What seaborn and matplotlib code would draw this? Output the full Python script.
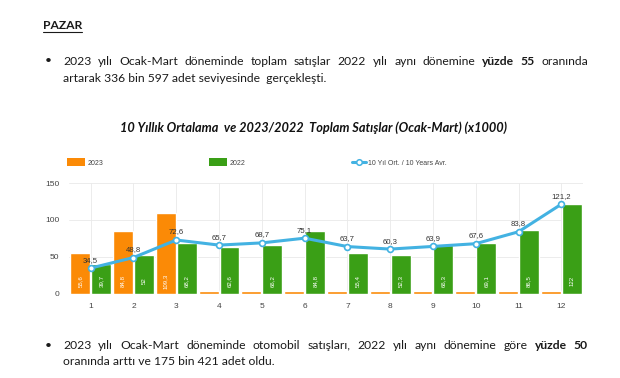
import numpy as np
import pandas as pd
import matplotlib
matplotlib.use("Agg")
import matplotlib.pyplot as plt
import seaborn as sns
from matplotlib.patches import Patch
from matplotlib.lines import Line2D

months = [str(m) for m in range(1, 13)]
sales_2023 = [55.6, 84.8, 109.3, 3, 3, 3, 3, 3, 3, 3, 3, 3]
sales_2022 = [39.7, 52, 68.2, 62.6, 66.2, 84.8, 55.4, 52.3, 66.3, 69.1, 86.5, 122]
avg_10y = [34.5, 48.8, 72.6, 65.7, 68.7, 75.1, 63.7, 60.3, 63.9, 67.6, 83.8, 121.2]

title = "10 Yıllık Ortalama  ve 2023/2022  Toplam Satışlar (Ocak-Mart) (x1000)"
heading = "PAZAR"
b1_line1 = "2023 yılı Ocak-Mart döneminde toplam satışlar 2022 yılı aynı dönemine **yüzde 55** oranında"
b1_line2 = "artarak 336 bin 597 adet seviyesinde  gerçekleşti."
b2_line1 = "2023 yılı Ocak-Mart döneminde otomobil satışları, 2022 yılı aynı dönemine göre **yüzde 50**"
b2_line2 = "oranında arttı ve 175 bin 421 adet oldu."

orange = "#fb8a06"
green = "#3a9f16"
blue = "#43b2e2"

sns.set_style("whitegrid", {"grid.color": "#e9e9e9"})
plt.rcParams["font.family"] = ["Liberation Sans", "DejaVu Sans"]

W, H = 620, 378
fig = plt.figure(figsize=(W / 100, H / 100), dpi=100)
renderer = fig.canvas.get_renderer()


def fx(x):
    return x / W


def fy(y):
    return 1 - y / H


def text_font():
    return dict(family=["Lato", "DejaVu Sans"], size=8.7, color="#1a1a1a", va="center")


def justified(line, x0, x1, y):
    # split into words, ** marks bold runs
    words = []
    for i, part in enumerate(line.split("**")):
        for w in part.split():
            words.append((w, "bold" if i % 2 else "normal"))
    items = []
    for w, wt in words:
        t = fig.text(0, 0, w, weight=wt, **text_font())
        items.append(t)
    widths = [t.get_window_extent(renderer=renderer).width for t in items]
    gap = (x1 - x0 - sum(widths)) / (len(items) - 1)
    x = x0
    for t, wd in zip(items, widths):
        t.set_position((fx(x), fy(y)))
        x += wd + gap


# heading + paragraphs
ht = fig.text(fx(43), fy(25.5), heading, weight="bold", **text_font())
hw = ht.get_window_extent(renderer=renderer).width
fig.add_artist(Line2D([fx(43), fx(43 + hw)], [fy(32.3), fy(32.3)], color="#1a1a1a", lw=0.8))

fig.text(fx(45), fy(60.5), "•", **text_font())
justified(b1_line1, 63, 588, 61.5)
fig.text(fx(63), fy(78.3), b1_line2, **text_font())

fig.text(fx(45), fy(345.5), "•", **text_font())
justified(b2_line1, 63, 588, 345.5)
fig.text(fx(63), fy(361.7), b2_line2, **text_font())

# chart title
fig.text(fx(314), fy(128), title, ha="center", va="center", weight="bold", style="italic",
         family=["Lato", "DejaVu Sans"], size=9.2, color="#111111")

# chart
ax = fig.add_axes([fx(69.3), fy(293.5), (582.7 - 69.3) / W, (293.5 - 183) / H])

bars = pd.DataFrame({
    "month": months * 2,
    "value": sales_2023 + sales_2022,
    "year": ["2023"] * 12 + ["2022"] * 12,
})
sns.barplot(data=bars, x="month", y="value", hue="year", hue_order=["2023", "2022"],
            palette=[orange, green], width=0.98, gap=0.05, legend=False, ax=ax,
            saturation=1, zorder=2)

for cont in ax.containers:
    for rect in cont:
        v = rect.get_height()
        if v < 10:
            continue
        lab = f"{v:g}".replace(".", ",")
        ax.text(rect.get_x() + rect.get_width() / 2, 17, lab, rotation=90, ha="center",
                va="center", color="white", fontsize=4.4, zorder=4)

line_df = pd.DataFrame({"month": months, "avg": avg_10y})
sns.pointplot(data=line_df, x="month", y="avg", color=blue, markers="o", errorbar=None,
              ax=ax, linewidth=2.2, markersize=4.2, markerfacecolor="white",
              markeredgewidth=1.2, markeredgecolor=blue, zorder=5)

for i, v in enumerate(avg_10y):
    ax.annotate(f"{v:g}".replace(".", ","), (i, v), xytext=(0, 8), textcoords="offset pixels",
                ha="center", va="center", fontsize=5.6, color="#333333", zorder=6)

ax.set_ylim(0, 150)
ax.set_xlim(-0.5, 11.5)
ax.set_yticks([0, 50, 100, 150])
ax.set_xlabel("")
ax.set_ylabel("")
ax.tick_params(axis="both", length=0, labelsize=6, labelcolor="#444444")
ax.tick_params(axis="x", pad=7)
ax.tick_params(axis="y", pad=7)
ax.grid(True, lw=0.6, zorder=0)
ax.set_axisbelow(True)
for s in ax.spines.values():
    s.set_visible(False)

# legend entries
leg_y = fy(162.5)
entries = [
    (Patch(facecolor=orange, edgecolor="none"), "2023", 67, 2.6),
    (Patch(facecolor=green, edgecolor="none"), "2022", 209, 2.6),
    (Line2D([0], [0], color=blue, lw=2.2, marker="o", markersize=4, markerfacecolor="white",
            markeredgecolor=blue, markeredgewidth=1.1), "10 Yıl Ort. / 10 Years Avr.", 352, 2.0),
]
for handle, label, x, hl in entries:
    lg = fig.legend(handles=[handle], labels=[label], loc="center left",
                    bbox_to_anchor=(fx(x), leg_y), frameon=False, fontsize=5,
                    handlelength=hl, handleheight=1.3, handletextpad=0.3,
                    borderpad=0, borderaxespad=0, labelcolor="#444444")

fig.savefig("out.png", dpi=100)
